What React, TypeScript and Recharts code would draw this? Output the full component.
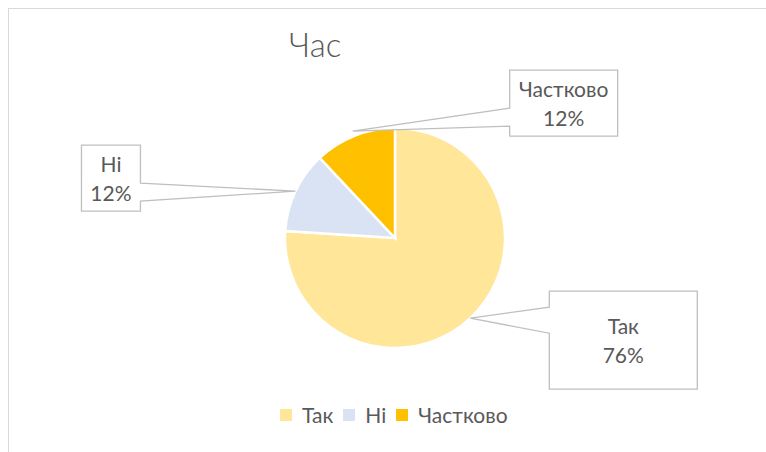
import { PieChart, Pie, Cell, Legend } from 'recharts';

const categories = ['Так', 'Ні', 'Частково'];
const shares = [76, 12, 12];
const colors = ['#FFE699', '#DAE3F3', '#FFC000'];

// callout boxes, placed relative to the point where the pointer touches the slice
const callouts: Record<string, { dx: number; dy: number; w: number; h: number; side: 'left' | 'right'; b1: number; b2: number; extra: number }> = {
    'Так': { dx: 79, dy: -27, w: 148, h: 98, side: 'left', b1: 16, b2: 42, extra: 0 },
    'Ні': { dx: -214, dy: -46, w: 59, h: 66, side: 'right', b1: 38, b2: 56, extra: 0 },
    'Частково': { dx: 157, dy: -61, w: 108, h: 66, side: 'left', b1: 38, b2: 56, extra: 5 },
};

const data = categories.map((name, i) => ({ name, value: shares[i] }));

const FONT = 'Lato, "Open Sans", sans-serif';
const TEXT = '#595959';
const RADIAN = Math.PI / 180;

// eslint-disable-next-line @typescript-eslint/no-explicit-any
const renderCallout = (props: any) => {
    const { cx, cy, midAngle, outerRadius, percent, name } = props;
    const c = callouts[name];
    if (!c) return null;
    const r = outerRadius + c.extra;
    const tx = cx + r * Math.cos(-midAngle * RADIAN);
    const ty = cy + r * Math.sin(-midAngle * RADIAN);
    const left = tx + c.dx;
    const top = ty + c.dy;
    const right = left + c.w;
    const bottom = top + c.h;
    const d = c.side === 'left'
        ? `M${left},${top} L${right},${top} L${right},${bottom} L${left},${bottom} L${left},${top + c.b2} L${tx},${ty} L${left},${top + c.b1} Z`
        : `M${left},${top} L${right},${top} L${right},${top + c.b1} L${tx},${ty} L${right},${top + c.b2} L${right},${bottom} L${left},${bottom} Z`;
    const mx = left + c.w / 2;
    const my = top + c.h / 2;
    return (
        <g>
            <path d={d} fill="#ffffff" stroke="#bfbfbf" strokeWidth={1.3} />
            <text x={mx} y={my - 6} textAnchor="middle" fill={TEXT} fontSize={21} fontFamily={FONT}>{name}</text>
            <text x={mx} y={my + 23} textAnchor="middle" fill={TEXT} fontSize={21} fontFamily={FONT}>{`${Math.round(percent * 100)}%`}</text>
        </g>
    );
};

const renderLegend = () => (
    <div style={{ display: 'flex', alignItems: 'center', fontFamily: FONT, fontSize: 21, color: TEXT }}>
        {categories.map((name, i) => (
            <div key={name} style={{ display: 'flex', alignItems: 'center', marginRight: 10 }}>
                <span style={{ width: 12, height: 12, background: colors[i], display: 'inline-block', marginRight: 10 }} />
                <span>{name}</span>
            </div>
        ))}
    </div>
);

export default function App() {
    return (
        <div style={{ position: 'absolute', left: 0, top: 0, width: 766, height: 452, background: '#fff' }}>
            <div style={{ position: 'absolute', left: 8, top: 8, right: 0, bottom: 0, borderTop: '1.5px solid #d9d9d9', borderLeft: '1.5px solid #d9d9d9' }} />
            <div style={{ position: 'absolute', left: 289, top: 24, fontFamily: FONT, fontSize: 33, fontWeight: 300, color: TEXT }}>Час</div>
            <PieChart width={766} height={452} margin={{ top: 0, right: 0, bottom: 0, left: 0 }} style={{ position: 'absolute', left: 0, top: 0 }}>
                <Pie
                    data={data}
                    dataKey="value"
                    nameKey="name"
                    cx={395}
                    cy={238}
                    outerRadius={110}
                    startAngle={90}
                    endAngle={-270}
                    stroke="#ffffff"
                    strokeWidth={2.5}
                    label={renderCallout}
                    labelLine={false}
                    isAnimationActive={false}
                >
                    {data.map((d, i) => <Cell key={d.name} fill={colors[i]} />)}
                </Pie>
                <Legend content={renderLegend} wrapperStyle={{ position: 'absolute', left: 280, top: 402, width: 'auto' }} />
            </PieChart>
        </div>
    );
}
